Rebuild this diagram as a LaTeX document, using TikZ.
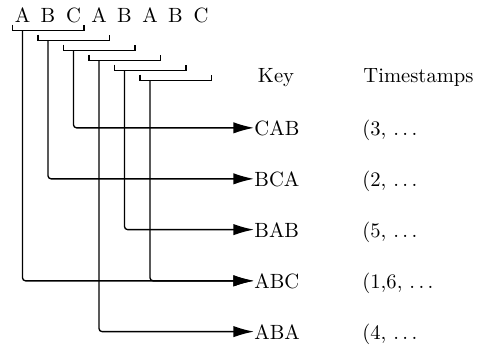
\documentclass[tikz,border=0pt]{standalone}
\usetikzlibrary{arrows.meta}
\begin{document}
\begin{tikzpicture}[x=0.485pt,y=-0.485pt,
  conn/.style={line width=0.65pt,rounded corners=1.5pt,-{Latex[length=10pt,width=5.5pt]}},
  brk/.style={line width=0.65pt},
  letter/.style={anchor=base,inner sep=0pt},
  keyn/.style={anchor=base west,inner sep=0pt},
  ts/.style={anchor=base west,inner sep=0pt}]
\useasboundingbox (0,0) rectangle (477,345);
\foreach \l [count=\i] in {A,B,C,A,B,A,B,C}
  \node[letter] (l\i) at ({22.5+25.5*(\i-1)},22.5) {\l};
\foreach \i in {1,...,6} {
  \pgfmathsetmacro\s{22.5+25.5*(\i-1)}
  \pgfmathsetmacro\yb{30.5+10*(\i-1)}
  \draw[brk] (\s-10,\yb-6) -- (\s-10,\yb) -- (\s+61.5,\yb) -- (\s+61.5,\yb-6);
  \coordinate (b\i) at (\s,\yb);
}
\node[anchor=base,inner sep=0pt] (key) at (276,82.5) {Key};
\node[anchor=base west,inner sep=0pt] (tsh) at (363,82.5) {Timestamps};
\node[keyn] (cab) at (254,135) {CAB};
\node[keyn] (bca) at (254,186) {BCA};
\node[keyn] (bab) at (254,237) {BAB};
\node[keyn] (abc) at (254,288) {ABC};
\node[keyn] (aba) at (254,339) {ABA};
\node[ts] (t1) at (362,135) {(3, $\ldots$};
\node[ts] (t2) at (362,186) {(2, $\ldots$};
\node[ts] (t3) at (362,237) {(5, $\ldots$};
\node[ts] (t4) at (362,288) {(1,6, $\ldots$};
\node[ts] (t5) at (362,339) {(4, $\ldots$};
\draw[conn] (b3) |- (cab.west);
\draw[conn] (b2) |- (bca.west);
\draw[conn] (b5) |- (bab.west);
\draw[conn] (b1) |- (abc.west);
\draw[conn] (b6) |- (abc.west);
\draw[conn] (b4) |- (aba.west);
\end{tikzpicture}
\end{document}
